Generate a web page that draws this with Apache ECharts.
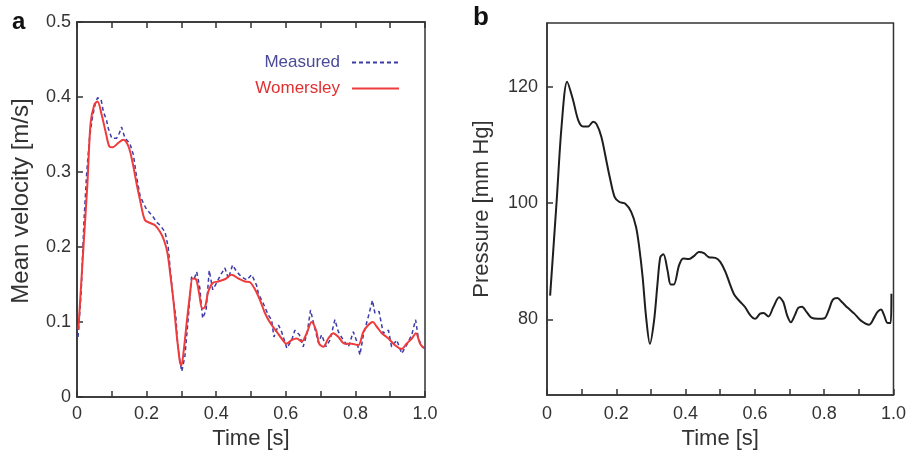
<!DOCTYPE html>
<html>
<head>
<meta charset="utf-8">
<script src="https://cdn.jsdelivr.net/npm/echarts@6/dist/echarts.min.js"></script>
<style>
html,body{margin:0;padding:0;background:#fff;}
#chart{width:909px;height:455px;}
</style>
</head>
<body>
<div id="chart"></div>
<script>
// Panel a: Womersley (smooth) mean velocity
var timeW = [0.004,0.018,0.030,0.039,0.050,0.059,0.071,0.083,0.093,0.103,0.119,0.133,0.148,0.160,0.171,0.181,0.195,0.210,0.224,0.239,0.250,0.260,0.269,0.277,0.286,0.296,0.300,0.307,0.315,0.325,0.332,0.342,0.351,0.360,0.368,0.377,0.390,0.406,0.425,0.444,0.464,0.483,0.497,0.511,0.526,0.540,0.555,0.574,0.588,0.602,0.617,0.631,0.646,0.660,0.674,0.687,0.696,0.708,0.722,0.737,0.751,0.770,0.789,0.808,0.823,0.837,0.850,0.861,0.876,0.895,0.914,0.933,0.947,0.962,0.974,0.986,0.997];
var velW  = [0.090,0.196,0.285,0.365,0.390,0.394,0.376,0.352,0.334,0.333,0.339,0.343,0.334,0.312,0.285,0.263,0.236,0.232,0.229,0.220,0.209,0.192,0.160,0.129,0.085,0.046,0.042,0.063,0.098,0.138,0.158,0.157,0.138,0.118,0.120,0.140,0.152,0.154,0.157,0.163,0.158,0.154,0.153,0.144,0.129,0.112,0.099,0.087,0.078,0.071,0.076,0.078,0.074,0.085,0.100,0.089,0.071,0.067,0.078,0.085,0.080,0.071,0.071,0.069,0.087,0.096,0.100,0.094,0.085,0.078,0.069,0.064,0.071,0.078,0.085,0.071,0.065];

// Panel a: measured mean velocity (noisy)
var timeM = [0.003,0.012,0.020,0.028,0.036,0.044,0.052,0.059,0.069,0.076,0.085,0.090,0.100,0.114,0.122,0.128,0.138,0.152,0.162,0.171,0.181,0.191,0.200,0.210,0.219,0.229,0.239,0.253,0.262,0.269,0.277,0.284,0.289,0.295,0.301,0.310,0.320,0.329,0.337,0.344,0.353,0.361,0.371,0.380,0.390,0.401,0.413,0.425,0.435,0.447,0.459,0.473,0.488,0.502,0.507,0.516,0.521,0.535,0.550,0.559,0.566,0.579,0.588,0.603,0.617,0.626,0.639,0.650,0.662,0.671,0.681,0.694,0.703,0.716,0.727,0.741,0.751,0.765,0.780,0.794,0.804,0.813,0.823,0.837,0.849,0.856,0.868,0.880,0.895,0.904,0.919,0.933,0.947,0.962,0.973,0.981,0.992,1.000];
var velM  = [0.080,0.140,0.235,0.300,0.345,0.372,0.390,0.399,0.397,0.380,0.369,0.358,0.345,0.345,0.352,0.360,0.345,0.338,0.323,0.294,0.269,0.258,0.250,0.245,0.240,0.233,0.229,0.220,0.200,0.165,0.129,0.107,0.072,0.050,0.034,0.054,0.107,0.160,0.158,0.167,0.145,0.105,0.116,0.169,0.143,0.152,0.163,0.172,0.158,0.176,0.167,0.160,0.156,0.163,0.163,0.149,0.138,0.125,0.109,0.103,0.080,0.096,0.087,0.065,0.076,0.089,0.083,0.067,0.087,0.116,0.096,0.072,0.083,0.067,0.076,0.103,0.087,0.076,0.067,0.087,0.074,0.056,0.083,0.107,0.129,0.112,0.114,0.085,0.089,0.067,0.076,0.058,0.069,0.083,0.103,0.078,0.067,0.065];

// Panel b: pressure
var timeP  = [0.009,0.028,0.042,0.058,0.075,0.090,0.104,0.119,0.133,0.143,0.157,0.171,0.181,0.195,0.209,0.226,0.243,0.257,0.266,0.276,0.286,0.297,0.309,0.319,0.327,0.336,0.348,0.357,0.366,0.381,0.393,0.410,0.424,0.438,0.453,0.467,0.486,0.500,0.515,0.529,0.542,0.558,0.572,0.587,0.601,0.615,0.625,0.639,0.653,0.670,0.682,0.693,0.704,0.715,0.725,0.736,0.749,0.763,0.782,0.801,0.813,0.825,0.838,0.851,0.868,0.887,0.906,0.930,0.945,0.954,0.964,0.973,0.983,0.992,0.994];
var pressP = [84.1,100.5,113.2,120.9,117.8,114.3,113.2,113.2,114.0,113.6,111.4,107.4,104.5,101.1,100.2,99.9,98.5,95.9,92.5,87.3,80.4,75.8,79.8,86.2,90.7,91.2,88.4,86.0,86.0,89.3,90.5,90.4,90.9,91.6,91.4,90.7,90.6,89.9,88.2,85.9,84.1,83.0,82.1,80.7,80.1,81.0,81.1,80.5,82.1,83.8,83.0,80.7,79.5,80.7,82.0,82.2,81.3,80.3,80.1,80.2,81.6,83.4,83.7,83.0,82.0,81.0,79.8,79.1,80.4,81.3,81.7,80.7,79.4,79.4,84.4];

var xTicks = [0,0.1,0.2,0.3,0.4,0.5,0.6,0.7,0.8,0.9,1.0];
var xLabels = [0,0.2,0.4,0.6,0.8,1.0];
var vTicks = [0,0.1,0.2,0.3,0.4,0.5];
var pTicks = [80,100,120];

function zip(a,b){var r=[];for(var i=0;i<a.length;i++)r.push([a[i],b[i]]);return r;}
function fmt1(v){return Math.abs(v)<1e-9?'0':v.toFixed(1);}

var axisCol = '#333';
var FONT = 'Liberation Sans, Arial, sans-serif';
var tickLab = {color:'#333', fontSize:18, fontFamily:FONT};
var nameSty = {color:'#333', fontSize:22, fontFamily:FONT};

var chart = echarts.init(document.getElementById('chart'), null, {renderer:'canvas'});
chart.setOption({
  animation:false,
  backgroundColor:'#fff',
  grid:[
    {left:77, top:22, width:348, height:375, show:true, borderColor:axisCol, borderWidth:1.5, backgroundColor:'transparent'},
    {left:547, top:23, width:349, height:372, show:true, borderColor:axisCol, borderWidth:1.5, backgroundColor:'transparent'}
  ],
  legend:{
    right:504, top:49, orient:'vertical', align:'right', itemWidth:47, itemHeight:14, itemGap:9,
    itemStyle:{opacity:0},
    textStyle:{fontSize:17, fontFamily:FONT, padding:[0,7,0,0]},
    data:[
      {name:'Measured', textStyle:{color:'#4a4a98'}},
      {name:'Womersley', textStyle:{color:'#e03030'}}
    ]
  },
  xAxis:[
    {gridIndex:0, type:'value', min:0, max:1, interval:0.1,
     name:'Time [s]', nameLocation:'middle', nameGap:31, nameTextStyle:nameSty,
     axisLine:{show:true, lineStyle:{color:axisCol, width:1.5}},
     axisTick:{show:true, inside:true, length:6, lineStyle:{color:axisCol, width:1.5}, customValues:xTicks},
     axisLabel:Object.assign({margin:8, customValues:xLabels, formatter:fmt1}, tickLab),
     splitLine:{show:false}},
    {gridIndex:0, type:'value', position:'top', min:0, max:1, interval:0.1,
     axisLine:{show:true, lineStyle:{color:axisCol, width:1.5}},
     axisTick:{show:true, inside:true, length:6, lineStyle:{color:axisCol, width:1.5}, customValues:xTicks},
     axisLabel:{show:false}, splitLine:{show:false}},
    {gridIndex:1, type:'value', min:0, max:1, interval:0.1,
     name:'Time [s]', nameLocation:'middle', nameGap:33, nameTextStyle:nameSty,
     axisLine:{show:true, lineStyle:{color:axisCol, width:1.5}},
     axisTick:{show:true, inside:true, length:6, lineStyle:{color:axisCol, width:1.5}, customValues:xTicks},
     axisLabel:Object.assign({margin:10, customValues:xLabels, formatter:fmt1}, tickLab),
     splitLine:{show:false}}
  ],
  yAxis:[
    {gridIndex:0, type:'value', min:0, max:0.5, interval:0.1,
     name:'Mean velocity [m/s]', nameLocation:'middle', nameGap:44,
     nameTextStyle:{color:'#333', fontSize:24, fontFamily:FONT, padding:[0,0,0,17]},
     axisLine:{show:true, lineStyle:{color:axisCol, width:1.5}},
     axisTick:{show:true, inside:true, length:6, lineStyle:{color:axisCol, width:1.5}, customValues:vTicks},
     axisLabel:Object.assign({margin:6, customValues:vTicks, formatter:fmt1}, tickLab),
     splitLine:{show:false}},
    {gridIndex:1, type:'value', min:67, max:131,
     name:'Pressure [mm Hg]', nameLocation:'middle', nameGap:54, nameTextStyle:nameSty,
     axisLine:{show:true, lineStyle:{color:axisCol, width:1.5}},
     axisTick:{show:true, inside:true, length:6, lineStyle:{color:axisCol, width:1.5}, customValues:pTicks},
     axisLabel:Object.assign({margin:9, customValues:pTicks}, tickLab),
     splitLine:{show:false}}
  ],
  series:[
    {name:'Measured', type:'line', xAxisIndex:0, yAxisIndex:0, data:zip(timeM,velM),
     symbol:'none', smooth:false, z:2,
     lineStyle:{color:'#3c3ca8', width:1.5, type:[4,3]}, itemStyle:{color:'#3c3ca8'}},
    {name:'Womersley', type:'line', xAxisIndex:0, yAxisIndex:0, data:zip(timeW,velW),
     symbol:'none', smooth:0.3, z:3,
     lineStyle:{color:'#ee3b3b', width:2}, itemStyle:{color:'#ee3b3b'}},
    {name:'Pressure', type:'line', xAxisIndex:2, yAxisIndex:1, data:zip(timeP,pressP),
     symbol:'none', smooth:0.3,
     lineStyle:{color:'#1e1e1e', width:2}, itemStyle:{color:'#1e1e1e'}}
  ],
  graphic:[
    {type:'text', left:12, top:10, style:{text:'a', fontSize:24, fontWeight:'bold', fontFamily:FONT, fill:'#111'}},
    {type:'text', left:473, top:5, style:{text:'b', fontSize:26, fontWeight:'bold', fontFamily:FONT, fill:'#111'}}
  ]
});
</script>
</body>
</html>
